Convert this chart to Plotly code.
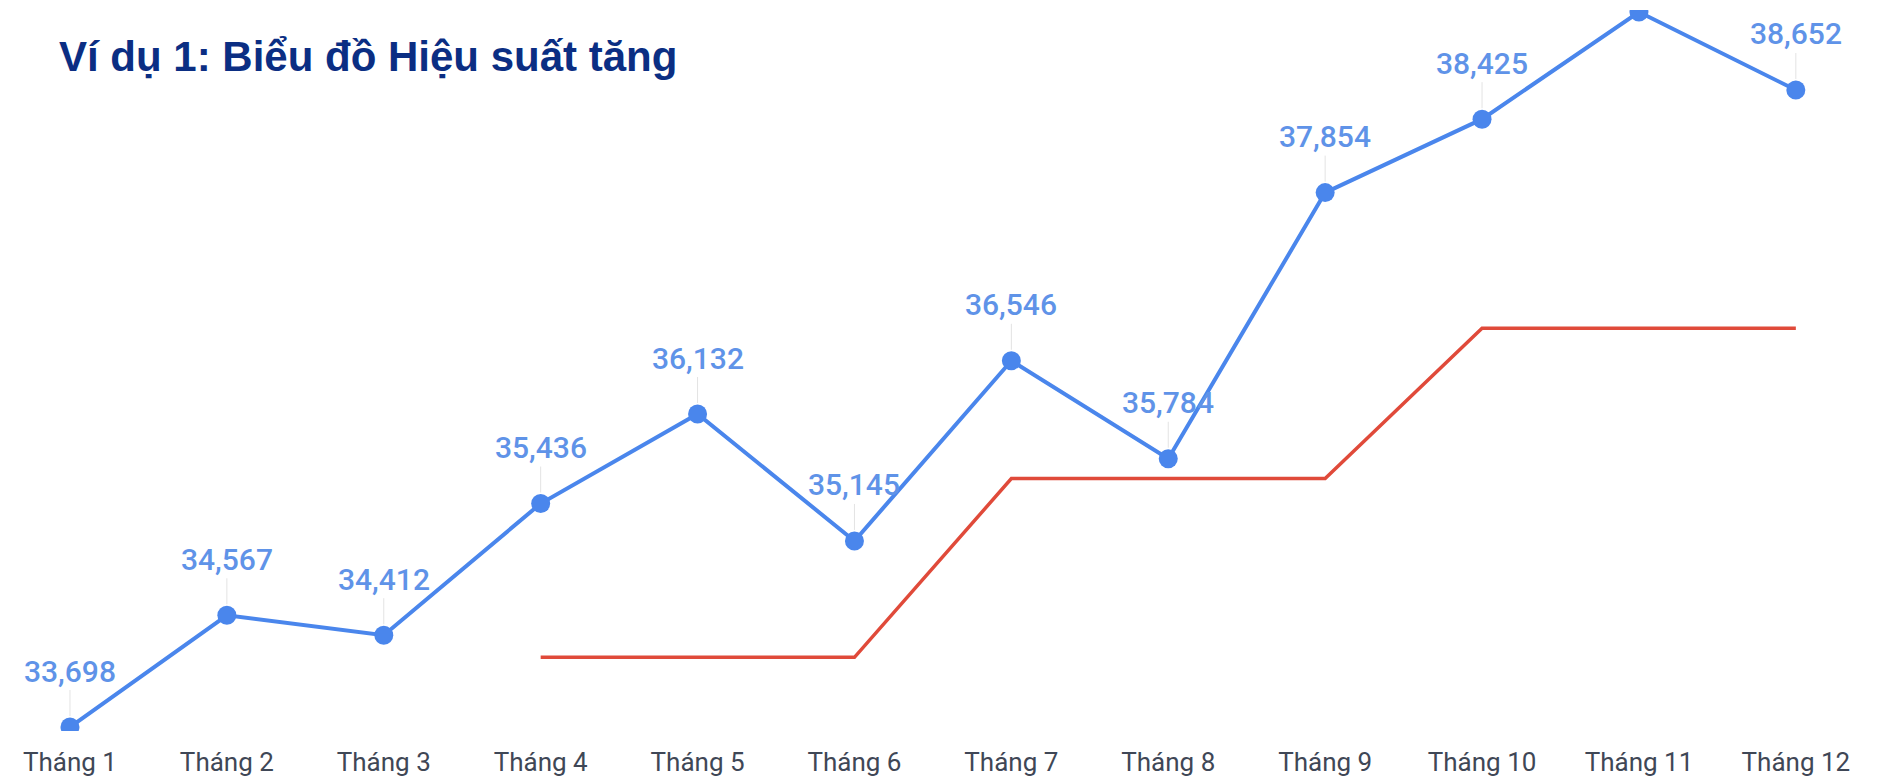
import plotly.graph_objects as go

months = ["Tháng 1", "Tháng 2", "Tháng 3", "Tháng 4", "Tháng 5", "Tháng 6",
          "Tháng 7", "Tháng 8", "Tháng 9", "Tháng 10", "Tháng 11", "Tháng 12"]
performance = [33698, 34567, 34412, 35436, 36132, 35145,
               36546, 35784, 37854, 38425, 39258, 38652]
target = [None, None, None, 34240, 34240, 34240,
          35630, 35630, 35630, 36800, 36800, 36800]
title_text = "Ví dụ 1: Biểu đồ Hiệu suất tăng"

W, H = 1879, 781
BLUE = "#4a86ec"
LABEL_BLUE = "#5f93e8"
RED = "#e04a3a"
Y_RANGE = [33667, 39274]
PLOT_H = H - 10 - 50
LABEL_OFFSET_PX = 56

x_idx = list(range(len(months)))
units_per_px = (Y_RANGE[1] - Y_RANGE[0]) / PLOT_H

fig = go.Figure()
fig.add_trace(go.Scatter(
    x=x_idx, y=target, mode="lines",
    line=dict(color=RED, width=3.5),
    connectgaps=False, hoverinfo="skip", showlegend=False,
))
fig.add_trace(go.Scatter(
    x=x_idx, y=performance, mode="lines+markers",
    line=dict(color=BLUE, width=4),
    marker=dict(color=BLUE, size=19),
    cliponaxis=True, showlegend=False,
))

for xi, v in zip(x_idx, performance):
    # labels that would fall above the plotting area are clipped away (as in the source)
    fits = v + (LABEL_OFFSET_PX + 15) * units_per_px < Y_RANGE[1] + 40 * units_per_px
    fig.add_annotation(
        x=xi, y=v, xref="x", yref="y",
        text=f"{v:,}", visible=fits,
        showarrow=True, arrowhead=0, arrowwidth=1, arrowcolor="#e3e3e3",
        ax=0, ay=-LABEL_OFFSET_PX, standoff=11,
        font=dict(family="Roboto, Arial, sans-serif", size=30, color=LABEL_BLUE, weight=500),
    )

fig.add_annotation(
    text=title_text, xref="paper", yref="paper",
    x=57 / W, y=0.936, xanchor="left", yanchor="middle",
    showarrow=False,
    font=dict(family="Liberation Sans, Arial, sans-serif", size=42, color="#0b2e83", weight="bold"),
)

fig.update_layout(
    width=W, height=H,
    margin=dict(l=0, r=0, t=10, b=50),
    paper_bgcolor="white", plot_bgcolor="white",
    xaxis=dict(
        range=[-0.446, 11.53],
        tickmode="array", tickvals=x_idx, ticktext=months,
        showgrid=False, zeroline=False, showline=False, ticks="",
        tickfont=dict(family="Roboto, Arial, sans-serif", size=26, color="#3f4756"),
        ticklabelstandoff=13,
    ),
    yaxis=dict(
        range=Y_RANGE,
        showgrid=False, zeroline=False, showline=False, showticklabels=False, ticks="",
    ),
)

fig.write_html("out.html")
